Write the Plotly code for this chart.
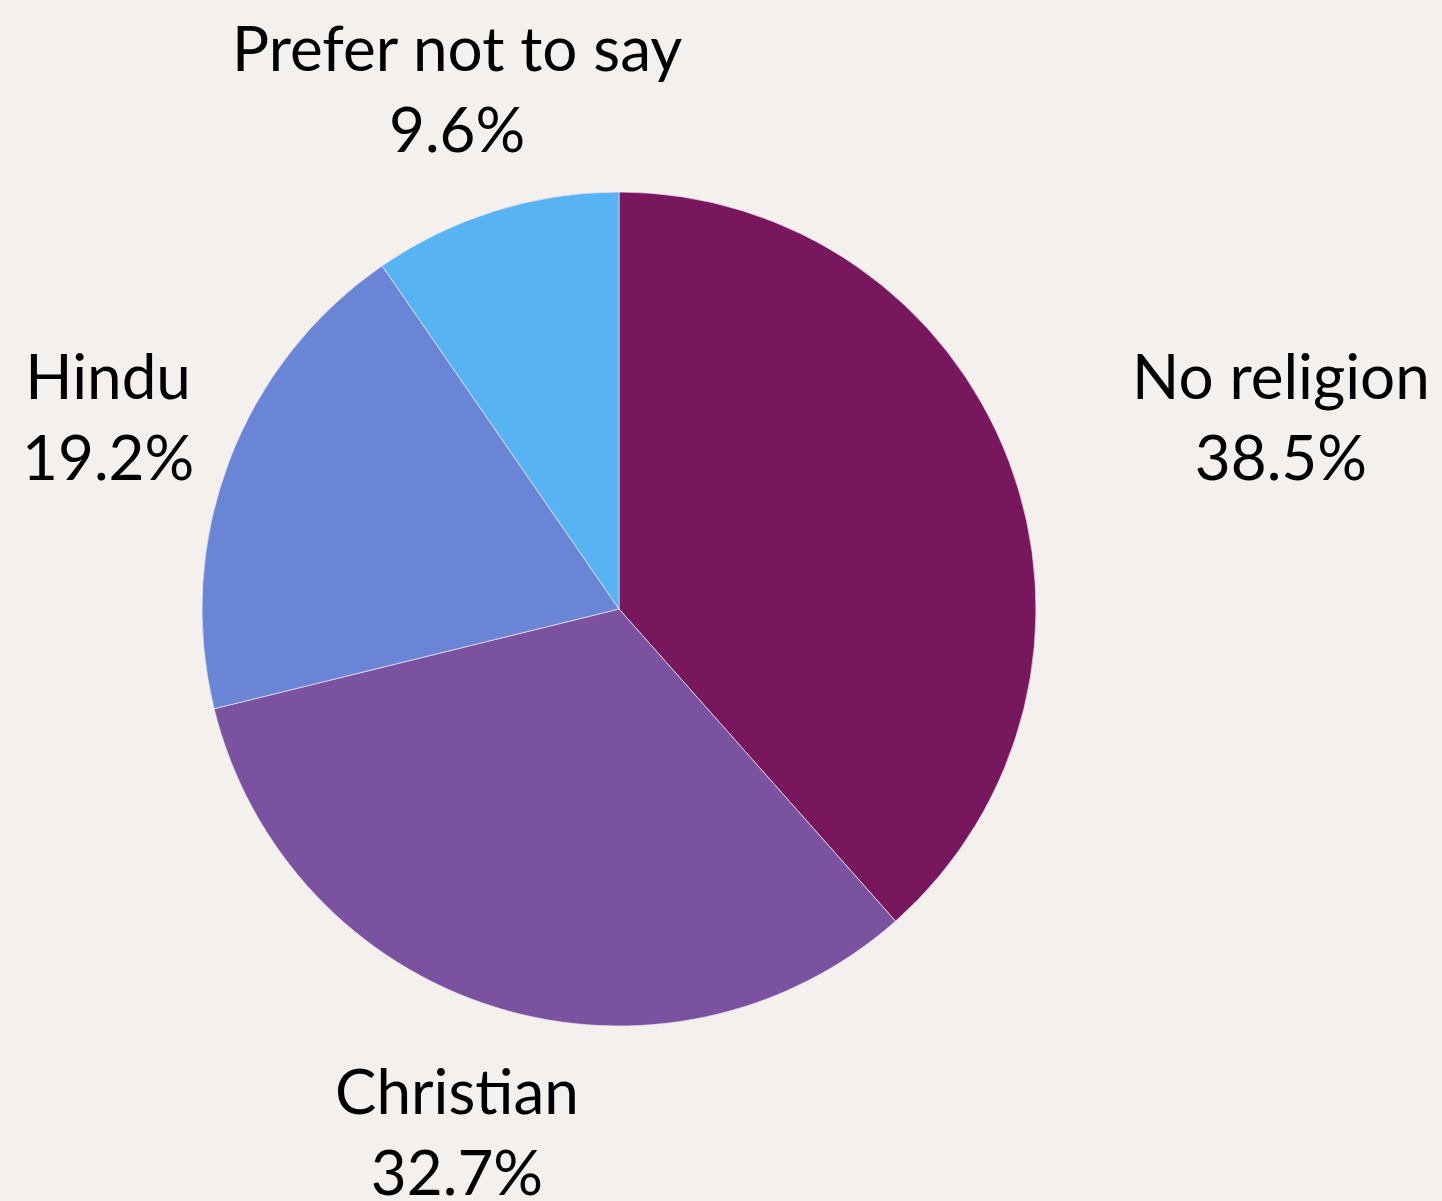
import math
import plotly.graph_objects as go

labels = ["No religion", "Christian", "Hindu", "Prefer not to say"]
counts = [20, 17, 10, 5]
colors = ["#78165E", "#7B52A0", "#6A85D5", "#57B3F2"]

W, H = 1442, 1201
cx, cy, r = 619, 609, 417  # pie centre / radius in px
label_r = 546

dom_x = [(cx - r) / W, (cx + r) / W]
dom_y = [(H - cy - r) / H, (H - cy + r) / H]

fig = go.Figure(go.Pie(
    labels=labels, values=counts, sort=False, direction="clockwise", rotation=0,
    marker=dict(colors=colors, line=dict(color="#EDE8F0", width=0.7)),
    textinfo="none", hoverinfo="label+percent", showlegend=False,
    domain=dict(x=dom_x, y=dom_y),
))

total = sum(counts)
cum = 0
for lab, v in zip(labels, counts):
    mid = (cum + v / 2) / total * 2 * math.pi
    cum += v
    px = cx + label_r * math.sin(mid)
    py = cy - label_r * math.cos(mid)
    anchor = "left" if math.sin(mid) > 0.5 else "center"
    fig.add_annotation(
        x=px / W, y=(H - py) / H, xref="paper", yref="paper",
        text=f"{lab}<br>{v / total * 100:.1f}%", showarrow=False,
        xanchor=anchor, yanchor="middle", align="center",
        font=dict(family="Lato", size=62, color="#000000"),
    )

fig.update_layout(
    width=W, height=H, margin=dict(l=0, r=0, t=0, b=0),
    paper_bgcolor="#F3F0ED", plot_bgcolor="#F3F0ED",
)
fig.write_html("out.html")
